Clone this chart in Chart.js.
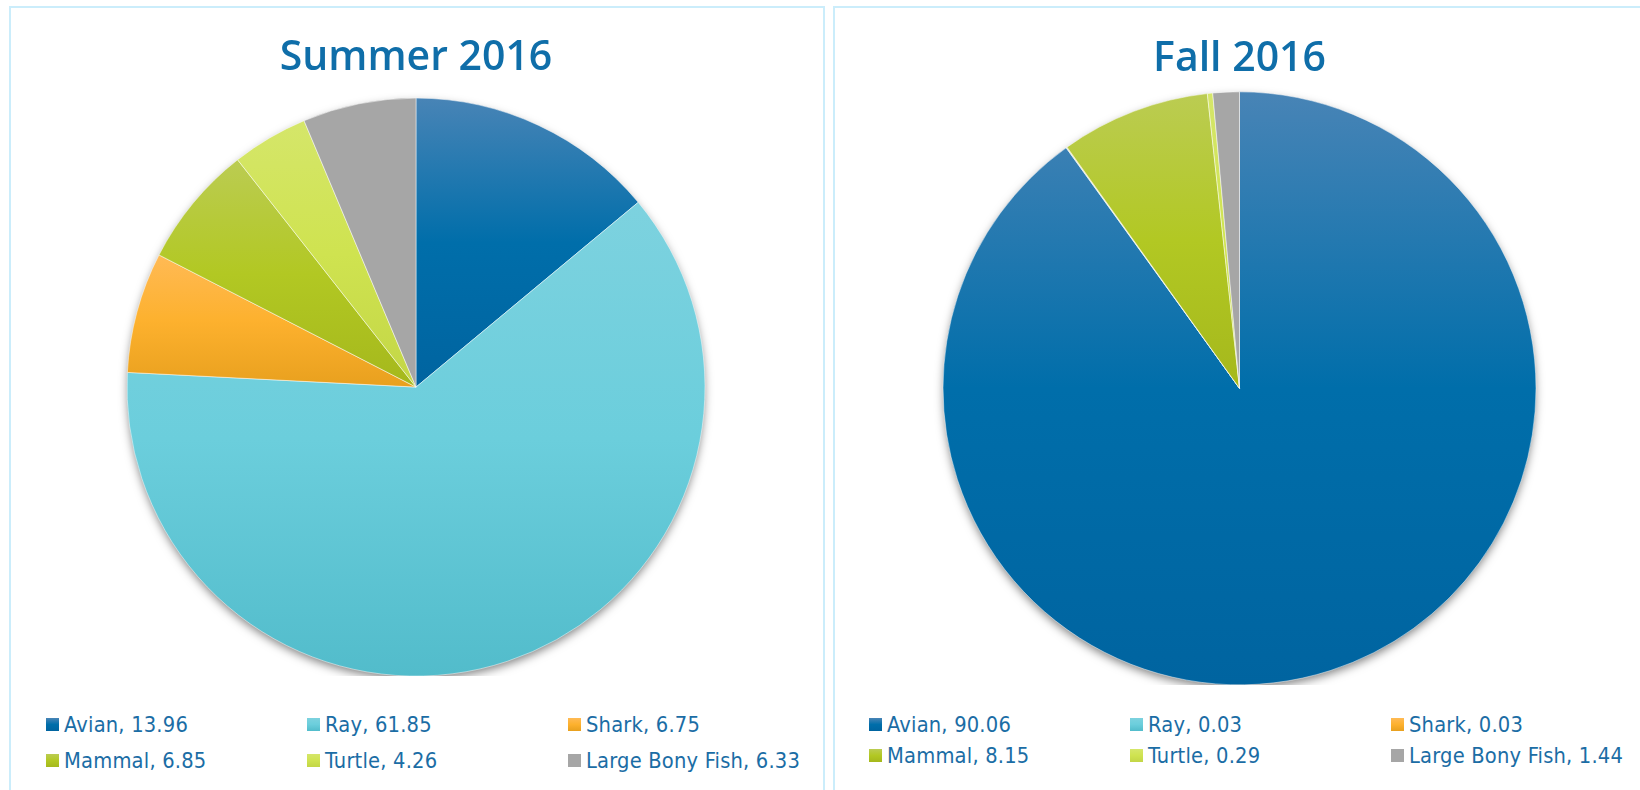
<!DOCTYPE html>
<html>
<head>
<meta charset="utf-8">
<script src="https://cdn.jsdelivr.net/npm/chart.js@4.4.1/dist/chart.umd.min.js"></script>
<style>
  html, body { margin: 0; padding: 0; background: #fff; width: 1640px; height: 790px; overflow: hidden; }
  .panel { position: absolute; box-sizing: border-box; border: 2px solid #CBEDFB; background: #fff; }
  .chart-box { position: absolute; }
  .legend { position: absolute; display: grid; grid-template-columns: repeat(3, 261px);
            font-family: "DejaVu Sans Condensed", "DejaVu Sans", sans-serif; font-size: 21.7px;
            color: #1B6DA5; letter-spacing: 0.2px; }
  .legend .item { display: flex; align-items: center; white-space: nowrap; }
  .legend .sw { width: 13px; height: 13px; margin-right: 5px; flex: none; }
</style>
</head>
<body>
<div class="panel" style="left:9px; top:6px; width:816px; height:800px;"></div>
<div class="panel" style="left:833px; top:6px; width:820px; height:800px;"></div>

<div class="chart-box" style="left:10px; top:0; width:812px; height:676px;"><canvas id="summer"></canvas></div>
<div class="chart-box" style="left:834px; top:0; width:811px; height:685px;"><canvas id="fall"></canvas></div>

<div class="legend" id="summer-legend" style="left:46px; top:706px; grid-auto-rows:36px;"></div>
<div class="legend" id="fall-legend" style="left:869px; top:709px; grid-auto-rows:31px;"></div>

<script>
'use strict';

var categories = ['Avian', 'Ray', 'Shark', 'Mammal', 'Turtle', 'Large Bony Fish'];
var summerValues = [13.96, 61.85, 6.75, 6.85, 4.26, 6.33];
var fallValues = [90.06, 0.03, 0.03, 8.15, 0.29, 1.44];
var chartTitles = ['Summer 2016', 'Fall 2016'];

// top / middle / bottom of each slice's vertical gradient
var lightColors = ['#4884B6', '#7DD2DF', '#FFBA55', '#BBCC52', '#D5E66A', '#A6A6A6'];
var baseColors = ['#006EAA', '#6BCEDC', '#FDB12E', '#B2C823', '#CFE350', '#A6A6A6'];
var darkColors = ['#0064A0', '#52BCCB', '#E8A01E', '#A5B81C', '#C3D646', '#A6A6A6'];

function sliceGradient(context, radius) {
    var chart = context.chart;
    var area = chart.chartArea;
    var i = context.dataIndex;
    if (!area) return baseColors[i];

    var data = context.dataset.data;
    var total = data.reduce(function(a, b) { return a + b; }, 0);
    var start = -Math.PI / 2;
    for (var k = 0; k < i; k++) start += data[k] / total * Math.PI * 2;
    var end = start + data[i] / total * Math.PI * 2;

    var cy = (area.top + area.bottom) / 2;
    var top = cy, bottom = cy;
    [start, end, -Math.PI / 2, Math.PI / 2, Math.PI * 1.5].forEach(function(a, n) {
        if (n > 1 && (a < start || a > end)) return;
        var y = cy + radius * Math.sin(a);
        top = Math.min(top, y);
        bottom = Math.max(bottom, y);
    });
    if (bottom - top < 1) bottom = top + 1;

    var g = chart.ctx.createLinearGradient(0, top, 0, bottom);
    g.addColorStop(0, lightColors[i]);
    g.addColorStop(0.5, baseColors[i]);
    g.addColorStop(1, darkColors[i]);
    return g;
}

// soft drop shadow under the whole pie
var pieShadow = {
    id: 'pieShadow',
    beforeDatasetsDraw: function(chart) {
        var arc = chart.getDatasetMeta(0).data[0];
        if (!arc) return;
        var ctx = chart.ctx;
        ctx.save();
        ctx.shadowColor = 'rgba(0, 0, 0, 0.5)';
        ctx.shadowBlur = 10;
        ctx.shadowOffsetY = 4;
        ctx.fillStyle = '#fff';
        ctx.beginPath();
        ctx.arc(arc.x, arc.y, arc.outerRadius - 1, 0, Math.PI * 2);
        ctx.fill();
        ctx.restore();
    }
};

function makePie(canvasId, title, values, radius, titlePad) {
    var ctx = document.getElementById(canvasId).getContext('2d');
    return new Chart(ctx, {
        type: 'pie',
        data: {
            labels: categories,
            datasets: [{
                data: values,
                backgroundColor: function(context) { return sliceGradient(context, radius); },
                borderColor: 'rgba(255, 255, 255, 0.6)',
                borderWidth: 0.8,
                hoverOffset: 0
            }]
        },
        options: {
            responsive: true,
            maintainAspectRatio: false,
            animation: false,
            radius: radius,
            layout: { padding: 0 },
            plugins: {
                legend: { display: false },
                tooltip: { enabled: false },
                title: {
                    display: true,
                    text: title,
                    color: '#0F6EA9',
                    font: { family: '"Open Sans", sans-serif', size: 41, weight: 600, lineHeight: 1.2 },
                    padding: titlePad
                }
            }
        },
        plugins: [pieShadow]
    });
}

function buildLegend(containerId, values) {
    var box = document.getElementById(containerId);
    categories.forEach(function(name, i) {
        var item = document.createElement('div');
        item.className = 'item';
        var sw = document.createElement('span');
        sw.className = 'sw';
        sw.style.background = 'linear-gradient(' + lightColors[i] + ', ' + baseColors[i] + ', ' + darkColors[i] + ')';
        var label = document.createElement('span');
        label.textContent = name + ', ' + values[i];
        item.appendChild(sw);
        item.appendChild(label);
        box.appendChild(item);
    });
}

makePie('summer', chartTitles[0], summerValues, 289, { top: 34, bottom: 15 });
makePie('fall', chartTitles[1], fallValues, 296.5, { top: 35, bottom: 7.5 });
buildLegend('summer-legend', summerValues);
buildLegend('fall-legend', fallValues);
</script>
</body>
</html>
